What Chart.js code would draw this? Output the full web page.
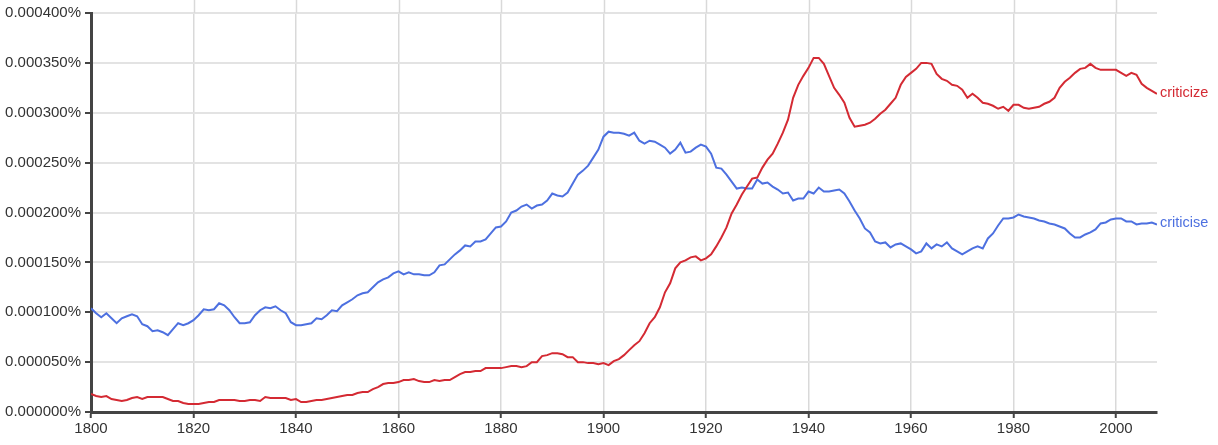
<!DOCTYPE html>
<html>
<head>
<meta charset="utf-8">
<script src="https://cdn.jsdelivr.net/npm/chart.js@4/dist/chart.umd.min.js"></script>
<style>
  html, body { margin: 0; padding: 0; background: #fff; }
  #wrap { width: 1218px; height: 445px; position: relative; }
</style>
</head>
<body>
<div id="wrap"><canvas id="c"></canvas></div>
<script>
// Values in units of 0.000001 %
const startYear = 1800;
const endYear = 2008;
const seriesNames = ["criticize", "criticise"];
const criticize = [
  18,16,15,16,13,12,11,12,14,15, 13,15,15,15,15,13,11,11,9,8,
  8,8,9,10,10,12,12,12,12,11, 11,12,12,11,15,14,14,14,14,12,
  13,10,10,11,12,12,13,14,15,16, 17,17,19,20,20,23,25,28,29,29,
  30,32,32,33,31,30,30,32,31,32, 32,35,38,40,40,41,41,44,44,44,
  44,45,46,46,45,46,50,50,56,57, 59,59,58,55,55,50,50,49,49,48,
  49,47,51,53,57,62,67,71,79,89, 95,105,120,129,144,150,152,155,156,152,
  154,158,166,175,185,199,208,218,226,234, 235,245,253,259,269,280,293,315,328,337,
  345,355,355,349,337,325,318,310,295,286, 287,288,290,294,299,303,309,315,328,336,
  340,344,350,350,349,339,334,332,328,327, 323,315,319,315,310,309,307,304,306,302,
  308,308,305,304,305,306,309,311,315,325, 331,335,340,344,345,349,345,343,343,343,
  343,340,337,340,338,329,325,322,319
];
const criticise = [
  104,99,95,99,94,89,94,96,98,96, 88,86,81,82,80,77,83,89,87,89,
  92,97,103,102,103,109,107,102,95,89, 89,90,97,102,105,104,106,102,99,90,
  87,87,88,89,94,93,97,102,101,107, 110,113,117,119,120,125,130,133,135,139,
  141,138,140,138,138,137,137,140,147,148, 153,158,162,167,166,171,171,173,179,185,
  186,191,200,202,206,208,204,207,208,212, 219,217,216,220,229,238,242,247,255,263,
  276,281,280,280,279,277,280,272,269,272, 271,268,265,259,263,270,260,261,265,268,
  266,259,245,244,238,231,224,225,224,224, 233,229,230,226,223,219,220,212,214,214,
  221,219,225,221,221,222,223,219,211,202, 194,184,180,171,169,170,165,168,169,166,
  163,159,161,169,164,168,166,170,164,161, 158,161,164,166,164,174,179,187,194,194,
  195,198,196,195,194,192,191,189,188,186, 184,179,175,175,178,180,183,189,190,193,
  194,194,191,191,188,189,189,190,188
];
const xTickStep = 20;
const yTickValues = [0, 50, 100, 150, 200, 250, 300, 350, 400];
const colors = { criticize: "#d42a33", criticise: "#4d70e0" };

const years = [];
for (let y = startYear; y <= endYear; y++) years.push(y);
const toPoints = arr => arr.map((v, i) => ({ x: years[i], y: v }));

const FONT = "'Liberation Sans', Arial, Helvetica, sans-serif";

const endLabels = {
  id: "endLabels",
  afterDatasetsDraw(chart) {
    const ctx = chart.ctx;
    ctx.save();
    ctx.font = "14.5px " + FONT;
    ctx.textBaseline = "middle";
    ctx.textAlign = "left";
    chart.data.datasets.forEach((ds, i) => {
      const meta = chart.getDatasetMeta(i);
      const last = meta.data[meta.data.length - 1];
      ctx.fillStyle = ds.borderColor;
      ctx.fillText(ds.label, last.x + 3, last.y - 1);
    });
    ctx.restore();
  }
};

const gridTopExt = {
  id: "gridTopExt",
  beforeDatasetsDraw(chart) {
    const ctx = chart.ctx;
    const xs = chart.scales.x;
    ctx.save();
    ctx.strokeStyle = "#d9d9d9";
    ctx.lineWidth = 1.5;
    xs.ticks.forEach(t => {
      const px = Math.round(xs.getPixelForValue(t.value)) + 0.5;
      if (t.value === startYear) return;
      ctx.beginPath();
      ctx.moveTo(px, 0);
      ctx.lineTo(px, chart.chartArea.top);
      ctx.stroke();
    });
    ctx.restore();
  }
};

new Chart(document.getElementById("c"), {
  type: "line",
  data: {
    datasets: [
      { label: seriesNames[0], data: toPoints(criticize), borderColor: colors.criticize, borderWidth: 2, pointRadius: 0, tension: 0, fill: false },
      { label: seriesNames[1], data: toPoints(criticise), borderColor: colors.criticise, borderWidth: 2, pointRadius: 0, tension: 0, fill: false }
    ]
  },
  options: {
    responsive: true,
    maintainAspectRatio: false,
    animation: false,
    layout: { padding: { top: 12, right: 61, left: 0, bottom: 0 } },
    plugins: { legend: { display: false }, tooltip: { enabled: false } },
    scales: {
      x: {
        type: "linear",
        min: startYear,
        max: endYear,
        afterBuildTicks: s => { s.ticks = years.filter(y => y % xTickStep === 0).map(v => ({ value: v })); },
        afterFit: s => { s.height = 33; },
        ticks: {
          stepSize: xTickStep,
          callback: v => String(v),
          font: { family: FONT, size: 15 },
          color: "#333",
          padding: 2,
          maxRotation: 0
        },
        grid: { color: "#d9d9d9", lineWidth: 1.5, tickLength: 6, tickColor: "#444", tickWidth: 2 },
        border: { color: "#444", width: 3 }
      },
      y: {
        min: 0,
        max: 400,
        afterBuildTicks: s => { s.ticks = yTickValues.map(v => ({ value: v })); },
        afterFit: s => { s.width = 91; },
        ticks: {
          callback: v => (v / 1e6).toFixed(6) + "%",
          font: { family: FONT, size: 15 },
          color: "#333",
          padding: 4
        },
        grid: { color: "#e3e3e3", lineWidth: 2, tickLength: 6, tickColor: "#444", tickWidth: 2 },
        border: { color: "#444", width: 3 }
      }
    }
  },
  plugins: [endLabels, gridTopExt]
});
</script>
</body>
</html>
